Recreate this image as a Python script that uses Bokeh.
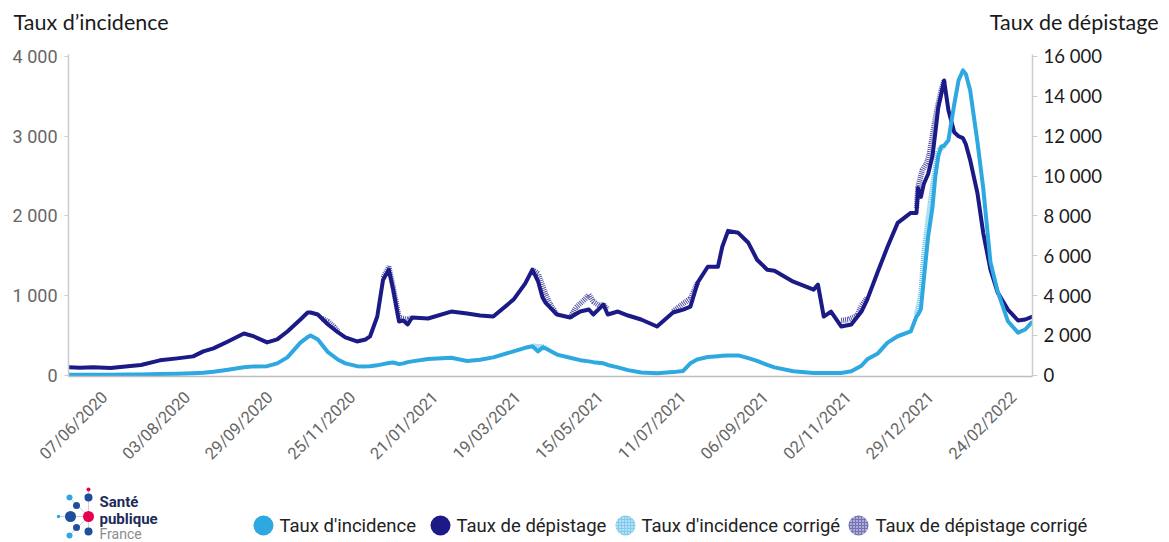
from math import pi
import datetime as dt
import numpy as np
import pandas as pd
from bokeh.plotting import figure
from bokeh.models import Range1d, LinearAxis, FixedTicker, DatetimeTickFormatter, ColumnDataSource
from bokeh.layouts import column
from bokeh.core.properties import value
from bokeh.embed import file_html
from bokeh.resources import INLINE

# ---------------- data ----------------
dates = ["2020-05-13", "2020-05-21", "2020-05-30", "2020-06-11", "2020-06-23", "2020-07-02", "2020-07-15",
         "2020-07-27", "2020-08-07", "2020-08-14", "2020-08-21", "2020-08-31", "2020-09-11", "2020-09-18",
         "2020-09-27", "2020-10-04", "2020-10-11", "2020-10-20", "2020-10-25", "2020-10-27", "2020-11-01",
         "2020-11-08", "2020-11-15", "2020-11-20", "2020-11-28", "2020-12-04", "2020-12-07", "2020-12-12",
         "2020-12-16", "2020-12-20", "2020-12-23", "2020-12-27", "2020-12-30", "2021-01-02", "2021-01-05",
         "2021-01-16", "2021-02-01", "2021-02-12", "2021-02-21", "2021-03-02", "2021-03-16", "2021-03-24",
         "2021-03-29", "2021-04-02", "2021-04-05", "2021-04-07", "2021-04-15", "2021-04-24", "2021-05-01",
         "2021-05-07", "2021-05-10", "2021-05-17", "2021-05-20", "2021-05-27", "2021-06-03", "2021-06-12",
         "2021-06-23", "2021-07-04", "2021-07-11", "2021-07-16", "2021-07-21", "2021-07-28", "2021-08-04",
         "2021-08-07", "2021-08-11", "2021-08-18", "2021-08-25", "2021-08-31", "2021-09-07", "2021-09-12",
         "2021-09-25", "2021-10-09", "2021-10-12", "2021-10-16", "2021-10-21", "2021-10-28", "2021-11-04",
         "2021-11-11", "2021-11-15", "2021-11-22", "2021-11-29", "2021-12-06", "2021-12-15", "2021-12-19",
         "2021-12-20", "2021-12-22", "2021-12-24", "2021-12-27", "2021-12-30", "2022-01-01", "2022-01-03",
         "2022-01-05", "2022-01-07", "2022-01-10", "2022-01-14", "2022-01-17", "2022-01-20", "2022-01-22",
         "2022-01-25", "2022-01-30", "2022-02-03", "2022-02-08", "2022-02-13", "2022-02-20", "2022-02-27",
         "2022-03-04", "2022-03-09"]

depistage = [400, 380, 400, 370, 450, 520, 750,
             850, 950, 1200, 1350, 1700, 2100, 1950,
             1650, 1800, 2200, 2800, 3150, 3150, 3050,
             2550, 2150, 1900, 1700, 1800, 1950, 2950,
             4800, 5300, 4300, 2700, 2750, 2550, 2900,
             2850, 3200, 3100, 3000, 2950, 3800, 4600,
             5300, 4700, 3900, 3650, 3050, 2900, 3200,
             3300, 3050, 3550, 3050, 3200, 3000, 2800,
             2450, 3150, 3300, 3450, 4650, 5450, 5450,
             6450, 7250, 7150, 6650, 5800, 5300, 5250,
             4700, 4300, 4550, 2950, 3200, 2450, 2550,
             3200, 3800, 5150, 6450, 7650, 8150, 8150,
             9400, 8950, 9600, 10100, 11000, 12200, 13450,
             14100, 14800, 13300, 12200, 12000, 11900, 11600,
             10800, 9150, 7150, 5300, 4150, 3300, 2750,
             2800, 2950]

incidence = [8, 8, 8, 8, 10, 10, 15,
             18, 25, 32, 45, 70, 100, 112,
             115, 150, 225, 410, 480, 500, 450,
             290, 195, 150, 115, 112, 115, 125,
             140, 155, 160, 140, 150, 165, 175,
             205, 220, 180, 195, 225, 300, 345,
             365, 300, 350, 340, 260, 220, 190,
             175, 165, 150, 130, 100, 65, 35,
             25, 40, 55, 150, 200, 230, 240,
             245, 248, 250, 215, 180, 130, 100,
             50, 30, 30, 28, 28, 30, 50,
             120, 200, 270, 410, 490, 550, 740,
             760, 830, 1200, 1740, 2110, 2500, 2750,
             2870, 2880, 2950, 3400, 3700, 3825, 3780,
             3575, 2930, 2350, 1420, 1050, 680, 535,
             575, 675]

# corrected series (None = gap between corrected stretches)
dep_corr_dates = ["2020-11-04", "2020-11-08", "2020-11-12", "2020-11-15", "2020-11-16",
                  "2020-12-16", "2020-12-20", "2020-12-23", "2020-12-27", "2020-12-30", "2021-01-02", "2021-01-05", "2021-01-06",
                  "2021-03-29", "2021-04-02", "2021-04-05", "2021-04-07", "2021-04-10", "2021-04-15", "2021-04-16",
                  "2021-04-24", "2021-04-28", "2021-05-04", "2021-05-07", "2021-05-10", "2021-05-14", "2021-05-17", "2021-05-20", "2021-05-21",
                  "2021-07-04", "2021-07-11", "2021-07-16", "2021-07-21", "2021-07-22",
                  "2021-10-28", "2021-11-02", "2021-11-08", "2021-11-11", "2021-11-15", "2021-11-16",
                  "2021-12-19", "2021-12-20", "2021-12-23", "2021-12-26", "2021-12-28", "2021-12-30", "2022-01-02", "2022-01-05", "2022-01-07"]
dep_corr_values = [2850, 2700, 2450, 2200, None,
                   4900, 5450, 4400, 2900, 2850, 2800, 2900, None,
                   5300, 5100, 4500, 4100, 3600, 3050, None,
                   2900, 3400, 3800, 4050, 3700, 3500, 3550, 3300, None,
                   3200, 3600, 3850, 4650, None,
                   2750, 2800, 3000, 3500, 3900, None,
                   8400, 9450, 10300, 10650, 11150, 12050, 13300, 14300, 14800]

inc_corr_dates = ["2021-03-29", "2021-04-02", "2021-04-05", "2021-04-07", "2021-04-08",
                  "2021-12-19", "2021-12-22", "2021-12-24", "2021-12-27", "2021-12-30", "2022-01-03", "2022-01-07"]
inc_corr_values = [365, 360, 355, 340, None,
                   760, 1000, 1500, 1950, 2350, 2820, 2880]

x_tick_dates = ["2020-06-07", "2020-08-03", "2020-09-29", "2020-11-25", "2021-01-21", "2021-03-19",
                "2021-05-15", "2021-07-11", "2021-09-06", "2021-11-02", "2021-12-29", "2022-02-24"]
left_ticks = [0, 1000, 2000, 3000, 4000]
right_ticks = [0, 2000, 4000, 6000, 8000, 10000, 12000, 14000, 16000]

left_title = "Taux d’incidence"
right_title = "Taux de dépistage"
legend_labels = ["Taux d'incidence", "Taux de dépistage", "Taux d'incidence corrigé", "Taux de dépistage corrigé"]

LIGHT = "#2ea8e0"
NAVY = "#1b1a86"
W = 1165


def fr(n):
    return f"{n:,}".replace(",", " ")


def ms(d):
    return pd.Timestamp(d).value // 10**6


def no_align(fig):
    try:
        fig.frame_align = False
    except Exception:
        pass


src = ColumnDataSource(dict(date=pd.to_datetime(dates), inc=incidence, dep=depistage))
src_dc = ColumnDataSource(dict(date=pd.to_datetime(dep_corr_dates),
                               dep=[np.nan if v is None else v for v in dep_corr_values]))
src_ic = ColumnDataSource(dict(date=pd.to_datetime(inc_corr_dates),
                               inc=[np.nan if v is None else v for v in inc_corr_values]))

# ---------------- top strip: axis titles ----------------
t = figure(width=W, height=44, x_range=Range1d(0, W), y_range=Range1d(0, 44),
           output_backend="svg", toolbar_location=None, min_border=0,
           x_axis_location=None, y_axis_location=None)
t.outline_line_color = None
t.grid.visible = False
no_align(t)
t.text(x=[13], y=[23], text=[left_title], text_font=value("Lato"), text_font_size="21.5px",
       text_color="#1a1a1a", text_baseline="middle", text_align="left")
t.text(x=[1158], y=[23], text=[right_title], text_font=value("Lato"), text_font_size="21.5px",
       text_color="#1a1a1a", text_baseline="middle", text_align="right")

# ---------------- main figure ----------------
p = figure(width=W, height=436, x_axis_type="datetime", output_backend="svg", toolbar_location=None,
           x_range=Range1d(dt.datetime(2020, 5, 13), dt.datetime(2022, 3, 9)),
           y_range=Range1d(-15, 4025),
           min_border_left=68, min_border_right=W - 1032, min_border_top=10, min_border_bottom=104)
no_align(p)
p.extra_y_ranges = {"dep": Range1d(-60, 16100)}
p.outline_line_color = None
p.xgrid.visible = False
p.ygrid.visible = False

xa = p.xaxis[0]
xa.ticker = FixedTicker(ticks=[ms(d) for d in x_tick_dates])
fmt = "%d/%m/%Y"
xa.formatter = DatetimeTickFormatter(days=fmt, months=fmt, years=fmt, hours=fmt, hourmin=fmt,
                                     minutes=fmt, minsec=fmt, seconds=fmt, milliseconds=fmt, microseconds=fmt)
xa.major_label_orientation = pi / 4
xa.major_label_text_font = "Roboto"
xa.major_label_text_font_size = "16.5px"
xa.major_label_text_color = "#666666"
xa.major_label_standoff = 12
xa.axis_line_color = "#bdbdbd"
xa.axis_line_width = 1.5
xa.major_tick_line_color = None
xa.minor_tick_line_color = None

ya = p.yaxis[0]
ya.ticker = FixedTicker(ticks=left_ticks)
ya.major_label_overrides = {v: fr(v) for v in left_ticks}
ya.major_label_text_font = "Roboto"
ya.major_label_text_font_size = "18px"
ya.major_label_text_color = "#666666"
ya.major_label_standoff = 7
ya.axis_line_color = "#cccccc"
ya.axis_line_width = 1.5
ya.major_tick_line_color = "#cccccc"
ya.major_tick_out = 4
ya.major_tick_in = 0
ya.minor_tick_line_color = None

ra = LinearAxis(y_range_name="dep", ticker=FixedTicker(ticks=right_ticks),
                major_label_overrides={v: fr(v) for v in right_ticks})
ra.major_label_text_font = "Lato"
ra.major_label_text_font_size = "18.5px"
ra.major_label_text_color = "#1a1a1a"
ra.major_label_standoff = 6
ra.axis_line_color = "#cccccc"
ra.axis_line_width = 1.5
ra.major_tick_line_color = "#cccccc"
ra.major_tick_out = 5
ra.major_tick_in = 0
ra.minor_tick_line_color = None
p.add_layout(ra, "right")

# corrected (dotted, beneath)
p.line("date", "dep", source=src_dc, y_range_name="dep", line_color=NAVY, line_width=5.5,
       line_dash="1 1", line_alpha=0.75)
p.line("date", "inc", source=src_ic, line_color=LIGHT, line_width=5.5, line_dash="1 1", line_alpha=0.75)
# main lines
p.line("date", "dep", source=src, y_range_name="dep", line_color=NAVY, line_width=4, line_join="round")
p.line("date", "inc", source=src, line_color=LIGHT, line_width=4, line_join="round")

# ---------------- bottom strip: logo + legend ----------------
s = figure(width=W, height=60, x_range=Range1d(0, W), y_range=Range1d(0, 60),
           output_backend="svg", toolbar_location=None, min_border=0,
           x_axis_location=None, y_axis_location=None)
s.outline_line_color = None
s.grid.visible = False
no_align(s)

# logo
s.segment(x0=[88, 58, 69, 69], y0=[51, 24, 43, 5], x1=[88, 88, 88, 88], y1=[8, 24, 24, 24],
          line_color="#d0d0d0", line_width=1)
s.scatter(x=[88, 69, 88, 76, 70, 58, 88, 76, 88, 69],
          y=[51, 43, 43, 35, 24, 24, 24, 13, 9, 5],
          size=[4, 6, 8, 7, 11, 3.5, 11, 7, 8, 6],
          fill_color=["#e5004f", LIGHT, "#1f4e9c", "#1f4e9c", "#1f4e9c", LIGHT, "#e5004f", "#1f4e9c", "#1f4e9c", LIGHT],
          line_color=None)
s.text(x=[99, 99], y=[39, 22], text=["Santé", "publique"], text_font=value("Roboto"),
       text_font_size="15px", text_font_style="bold", text_color="#1d2b5a", text_baseline="middle")
s.text(x=[99], y=[7], text=["France"], text_font=value("Roboto"), text_font_size="14px",
       text_color="#8c8c8c", text_baseline="middle")

# legend
s.scatter(x=[263, 440], y=[15, 15], size=20, fill_color=[LIGHT, NAVY], line_color=None)
s.scatter(x=[625, 858], y=[15, 15], size=20, fill_color=[LIGHT, NAVY], fill_alpha=0.6,
          hatch_pattern=".", hatch_color="white", hatch_scale=3, hatch_weight=1, line_color=None)
s.text(x=[279, 456, 641, 875], y=[15, 15, 15, 15], text=legend_labels, text_font=value("Roboto"),
       text_font_size="18.5px", text_color="#222222", text_baseline="middle")

layout = column(t, p, s)
open("out.html", "w").write(file_html(layout, INLINE))
